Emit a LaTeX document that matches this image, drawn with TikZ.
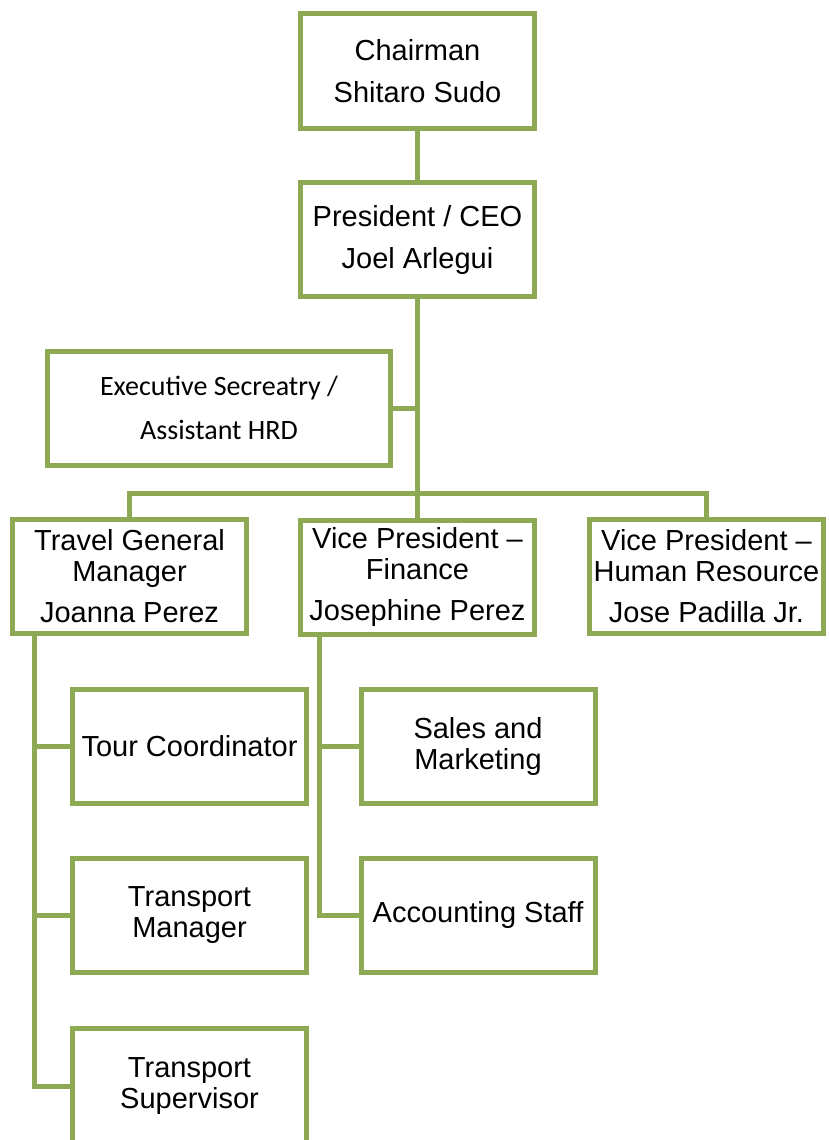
\documentclass[tikz,border=0pt]{standalone}
\usepackage{fontspec}
\setmainfont{Liberation Sans}
\newfontfamily\calfont{Carlito}
\definecolor{boxgreen}{RGB}{141,169,84}
\begin{document}
\begin{tikzpicture}[x=1pt,y=-1pt,
  orgbox/.style={draw=boxgreen,line width=5pt,fill=white,rectangle,
    minimum width=234pt,minimum height=114pt,inner sep=0pt,align=center,
    font=\fontsize{29}{42}\selectfont},
  tightbox/.style={orgbox,font=\fontsize{29}{31}\selectfont},
  link/.style={draw=boxgreen,line width=5pt}]
\useasboundingbox (0,0) rectangle (828,1140);
\clip (0,0) rectangle (828,1140);
\fill[white] (0,0) rectangle (828,1140);

% top of the chart
\node[orgbox] (chair) at (417.5,71) {Chairman\\Shitaro Sudo};
\node[orgbox] (pres) at (417.5,239.5) {President / CEO\\Joel Arlegui};
\node[orgbox,minimum width=343pt,font=\calfont\fontsize{28}{44}\selectfont] (exec) at (219,408) {Executive Secreatry /\\Assistant HRD};

% department heads
\node[tightbox] (gm) at (129.5,576) {Travel General\\Manager\\[10pt]Joanna Perez};
\node[tightbox] (fin) at (417.5,577) {Vice President --\\Finance\\[10pt]Josephine Perez};
\node[tightbox] (hr) at (706.5,576) {Vice President --\\Human Resource\\[10pt]Jose Padilla Jr.};

% staff under the travel general manager
\node[orgbox] (tour) at (189.5,746) {Tour Coordinator};
\node[tightbox] (tmgr) at (189.5,915) {Transport\\Manager};
\node[tightbox,minimum height=116pt] (tsup) at (189.5,1086) {Transport\\Supervisor};

% staff under finance
\node[tightbox] (sales) at (478,746) {Sales and\\Marketing};
\node[orgbox] (acct) at (478,915) {Accounting Staff};

% connectors
\coordinate (bus) at (417.5,493);
\draw[link] (chair.south) -- (pres.north);
\draw[link] (pres.south) -- (bus);
\draw[link] (exec.east) -- (exec.east -| pres.south);
\draw[link] (gm.north) |- (bus) -| (hr.north);
\draw[link] (bus) -- (fin.north);
\draw[link] ([xshift=24.5pt]gm.south west) |- (tsup.west);
\draw[link] ([xshift=24.5pt]gm.south west) |- (tour.west);
\draw[link] ([xshift=24.5pt]gm.south west) |- (tmgr.west);
\draw[link] ([xshift=21.5pt]fin.south west) |- (acct.west);
\draw[link] ([xshift=21.5pt]fin.south west) |- (sales.west);
\end{tikzpicture}
\end{document}
